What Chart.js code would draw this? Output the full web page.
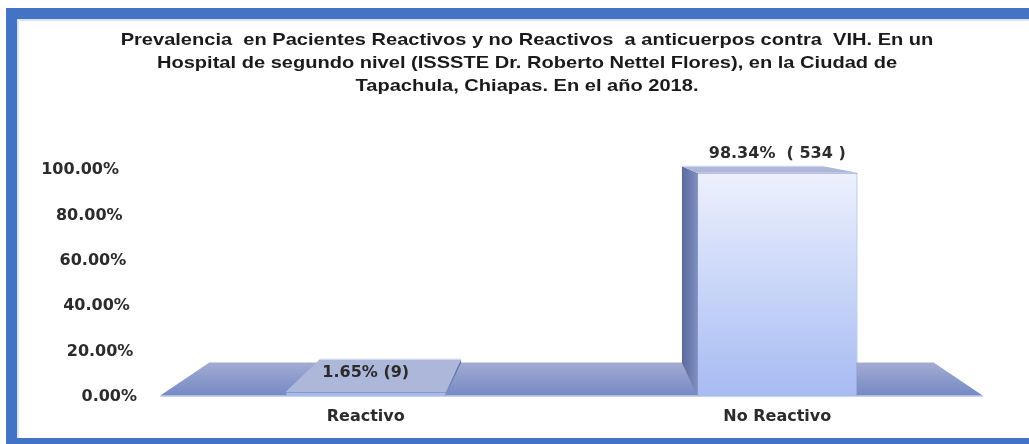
<!DOCTYPE html>
<html><head><meta charset="utf-8">
<script src="https://cdn.jsdelivr.net/npm/chart.js@4.4.1/dist/chart.umd.min.js"></script>
<style>
html,body{margin:0;padding:0;background:#fff;overflow:hidden}
#frame{position:absolute;left:6px;top:8px;width:1100px;height:436px;box-sizing:border-box;border-top:11px solid #4472c4;border-left:11px solid #4472c4;border-bottom:6px solid #4472c4;box-shadow:inset 2px 2px 0 #dbe4f5}
#c{position:absolute;left:0;top:0;z-index:2}
</style>
</head><body>
<div id="frame"></div>
<canvas id="c" width="1029" height="444"></canvas>
<script>
const categories = ['Reactivo', 'No Reactivo'];
const percentages = [1.65, 98.34];
const counts = [9, 534];
const valueLabels = ['1.65% (9)', '98.34%  ( 534 )'];
const yTicks = [0, 20, 40, 60, 80, 100];
const titleLines = [
  'Prevalencia  en Pacientes Reactivos y no Reactivos  a anticuerpos contra  VIH. En un',
  'Hospital de segundo nivel (ISSSTE Dr. Roberto Nettel Flores), en la Ciudad de',
  'Tapachula, Chiapas. En el año 2018.'
];

const TXT = '#2b2b2b';
const DEPTH = 0.12;

function proj(ca, x, y) {
  const vx = (ca.left + ca.right) / 2;
  const vy = ca.top - 51;
  return [x + (vx - x) * DEPTH, y + (vy - y) * DEPTH];
}
function poly(ctx, pts, fill) {
  ctx.beginPath();
  ctx.moveTo(pts[0][0], pts[0][1]);
  for (let i = 1; i < pts.length; i++) ctx.lineTo(pts[i][0], pts[i][1]);
  ctx.closePath();
  ctx.fillStyle = fill;
  ctx.fill();
}

const threeD = {
  id: 'threeD',
  beforeDatasetsDraw(chart) {
    const ctx = chart.ctx, ca = chart.chartArea;
    ctx.save();
    const fl = [[ca.left, ca.bottom], [ca.right, ca.bottom], proj(ca, ca.right, ca.bottom), proj(ca, ca.left, ca.bottom)];
    const g = ctx.createLinearGradient(0, fl[2][1], 0, ca.bottom);
    g.addColorStop(0, '#a3acd3');
    g.addColorStop(1, '#7489c4');
    poly(ctx, fl, g);
    ctx.strokeStyle = '#c8d2ee';
    ctx.lineWidth = 1.5;
    ctx.beginPath(); ctx.moveTo(ca.left, ca.bottom + 0.5); ctx.lineTo(ca.right, ca.bottom + 0.5); ctx.stroke();
    const meta = chart.getDatasetMeta(0);
    meta.data.forEach((bar) => {
      const p = bar.getProps(['x', 'y', 'base', 'width'], true);
      const L = p.x - p.width / 2, R = p.x + p.width / 2, T = p.y, B = p.base;
      const vx = (ca.left + ca.right) / 2;
      const sx = p.x < vx ? R : L;
      const side = [[sx, T], [sx, B], proj(ca, sx, B), proj(ca, sx, T)];
      const sg = ctx.createLinearGradient(side[0][0], 0, side[3][0], 0);
      sg.addColorStop(0, '#7d8dbf');
      sg.addColorStop(1, '#5a6a9c');
      poly(ctx, side, sg);
      const top = [[L, T], [R, T], proj(ca, R, T), proj(ca, L, T)];
      poly(ctx, top, '#adb7da');
      ctx.strokeStyle = '#d6ddf2';
      ctx.lineWidth = 1;
      ctx.beginPath(); ctx.moveTo(top[3][0], top[3][1]); ctx.lineTo(top[2][0], top[2][1]); ctx.stroke();
    });
    ctx.restore();
  },
  afterDatasetsDraw(chart) {
    const ctx = chart.ctx, ca = chart.chartArea;
    ctx.save();
    ctx.font = 'bold 16px "DejaVu Sans"';
    ctx.fillStyle = TXT;
    ctx.textAlign = 'center';
    ctx.textBaseline = 'middle';
    chart.getDatasetMeta(0).data.forEach((bar, i) => {
      ctx.fillText(valueLabels[i], bar.x, bar.y - 19);
    });
    const ys = chart.scales.y;
    ctx.textAlign = 'right';
    yTicks.forEach(v => {
      ctx.fillText(v.toFixed(2) + '%', ca.left - 23 - v * 0.18, ys.getPixelForValue(v) + 1);
    });
    // title (horizontally stretched like the source)
    ctx.font = 'bold 17px "Liberation Sans"';
    ctx.fillStyle = '#1a1a1a';
    ctx.textAlign = 'center';
    ctx.translate(527, 0);
    ctx.scale(1.18, 1);
    titleLines.forEach((t, i) => ctx.fillText(t, 0, 40 + i * 23));
    ctx.restore();
  }
};

new Chart(document.getElementById('c'), {
  type: 'bar',
  data: {
    labels: categories,
    datasets: [{
      data: percentages,
      counts: counts,
      categoryPercentage: 1,
      barPercentage: 0.39,
      borderWidth: 1,
      borderColor: '#8a98c8',
      borderSkipped: 'bottom',
      backgroundColor(ctx) {
        const ca = ctx.chart.chartArea;
        if (!ca) return '#c8d5f7';
        const g = ctx.chart.ctx.createLinearGradient(0, ca.top, 0, ca.bottom);
        g.addColorStop(0, '#eef2fd');
        g.addColorStop(1, '#a6bbf3');
        return g;
      }
    }]
  },
  options: {
    responsive: false,
    animation: false,
    layout: { padding: { left: 160, right: 46, top: 169, bottom: 7 } },
    plugins: { legend: { display: false }, title: { display: false }, tooltip: { enabled: false } },
    scales: {
      x: {
        grid: { display: false, drawTicks: false },
        border: { display: false },
        ticks: { color: TXT, font: { family: 'DejaVu Sans', size: 16, weight: 'bold' }, padding: 11 }
      },
      y: { display: false, min: 0, max: 100 }
    }
  },
  plugins: [threeD]
});
</script>
</body></html>
